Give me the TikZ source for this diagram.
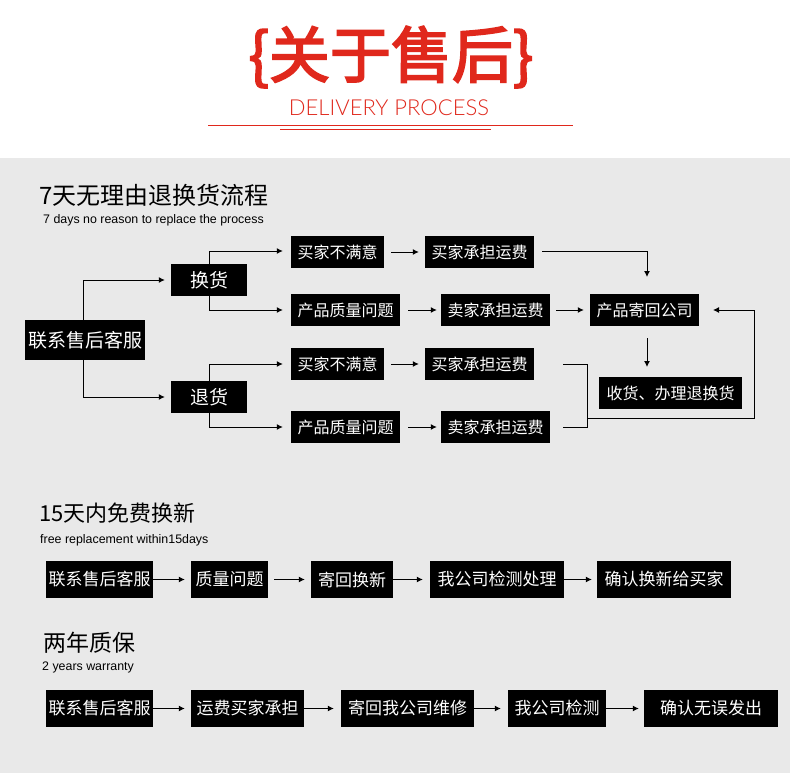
\documentclass[tikz,border=0pt]{standalone}
\usepackage{fontspec}
\setmainfont{Noto Sans CJK SC}
\newfontfamily\cjk{Noto Sans CJK SC}
\newfontfamily\cjkb{Noto Sans CJK SC}[BoldFont=*, BoldFeatures={FakeBold=3}]
\newfontfamily\lightfont{Lato Light}
\usetikzlibrary{arrows.meta}
\definecolor{bgray}{HTML}{E9E9E9}
\definecolor{tred}{HTML}{E0281C}
\tikzset{
  ln/.style={line width=1pt, draw=black},
  ar/.style={ln, -{Latex[length=6pt,width=6pt]}},
  sub/.style={anchor=west, inner sep=0pt, font=\fontspec{Liberation Sans}\fontsize{12.4}{12.4}\selectfont},
}
\begin{document}
\begin{tikzpicture}[x=1pt,y=-1pt]
\useasboundingbox (0,0) rectangle (790,773);
\fill[white] (0,0) rectangle (790,158);
\fill[bgray] (0,158) rectangle (790,773);
% title
\node[text=tred, font=\cjkb\bfseries\fontsize{61}{61}\selectfont, inner sep=0pt] (title) at (391,57) {\{关于售后\}};
\node[text=tred, font=\lightfont\fontsize{22}{22}\selectfont, inner sep=0pt] (sub) at (389,108) {DELIVERY PROCESS};
\draw[tred, line width=1pt] (208,126) coordinate (l1a) -- (573,126) coordinate (l1b);
\draw[tred, line width=1pt] (280,130) coordinate (l2a) -- (491,130) coordinate (l2b);
% headings
\node[anchor=west, inner sep=0pt, font=\cjk\fontsize{24}{24}\selectfont] (h1) at (39,195) {7天无理由退换货流程};
\node[sub] (s1) at (43,220) {7 days no reason to replace the process};
\node[anchor=west, inner sep=0pt, font=\cjk\fontsize{22}{22}\selectfont] (h2) at (39,513) {15天内免费换新};
\node[sub] (s2) at (40,540) {free replacement within15days};
\node[anchor=west, inner sep=0pt, font=\cjk\fontsize{23}{23}\selectfont] (h3) at (43,643) {两年质保};
\node[sub] (s3) at (42,667) {2 years warranty};

% section 1 boxes
\tikzset{b/.style={fill=black, text=white, inner sep=0pt, font=\cjk\fontsize{16}{16}\selectfont}}
\node[b, minimum width=120, minimum height=40, font=\cjk\fontsize{19}{19}\selectfont] (kf) at (85,340) {联系售后客服};
\node[b, minimum width=76, minimum height=32, font=\cjk\fontsize{19}{19}\selectfont] (hh) at (209,280) {换货};
\node[b, minimum width=76, minimum height=32, font=\cjk\fontsize{19}{19}\selectfont] (th) at (209,397) {退货};
\node[b, minimum width=93, minimum height=32] (r1a) at (337.5,252) {买家不满意};
\node[b, minimum width=109, minimum height=32] (r1b) at (479.5,252) {买家承担运费};
\node[b, minimum width=109, minimum height=32] (r2a) at (345.5,310) {产品质量问题};
\node[b, minimum width=109, minimum height=32] (r2b) at (495.5,310) {卖家承担运费};
\node[b, minimum width=109, minimum height=32] (jh) at (644.5,310) {产品寄回公司};
\node[b, minimum width=143, minimum height=32] (sh) at (670.5,393) {收货、办理退换货};
\node[b, minimum width=93, minimum height=32] (r3a) at (337.5,364) {买家不满意};
\node[b, minimum width=109, minimum height=32] (r3b) at (479.5,364) {买家承担运费};
\node[b, minimum width=109, minimum height=32] (r4a) at (345.5,427) {产品质量问题};
\node[b, minimum width=109, minimum height=32] (r4b) at (495.5,427) {卖家承担运费};

% section 1 connectors
\draw[ar] (kf.north -| 83,0) |- ([xshift=-6pt]hh.west);
\draw[ar] (kf.south -| 83,0) |- ([xshift=-6pt]th.west);
\draw[ar] (hh.north) |- ([xshift=-8pt,yshift=1pt]r1a.west);
\draw[ar] (hh.south) |- ([xshift=-8pt]r2a.west);
\draw[ar] (th.north) |- ([xshift=-8pt]r3a.west);
\draw[ar] (th.south) |- ([xshift=-8pt]r4a.west);
\draw[ar] ([xshift=7pt]r1a.east) -- ([xshift=-6pt]r1b.west);
\draw[ar] ([xshift=8pt]r2a.east) -- ([xshift=-4pt]r2b.west);
\draw[ar] ([xshift=6pt]r2b.east) -- ([xshift=-6pt]jh.west);
\draw[ar] ([xshift=7pt]r3a.east) -- ([xshift=-6pt]r3b.west);
\draw[ar] ([xshift=8pt]r4a.east) -- ([xshift=-4pt]r4b.west);
\coordinate (c1) at (542,251);
\coordinate (t1) at (647,277);
\draw[ar] (c1) -| (t1);
\coordinate (d1) at (647,338);
\coordinate (d2) at (647,367);
\draw[ar] (d1) -- (d2);
\coordinate (m3) at (563,364);
\coordinate (m4) at (563,427);
\coordinate (mj) at (587,418);
\coordinate (ej) at (713,310);
\draw[ln] (m3) -| (587,427) -- (m4);
\draw[ar] (mj) -| (754,310) -- (ej);

% section 2
\tikzset{c/.style={fill=black, text=white, inner sep=0pt, minimum height=37, font=\cjk\fontsize{17}{17}\selectfont}}
\node[c, minimum width=107] (a1) at (99.5,579.5) {联系售后客服};
\node[c, minimum width=77] (a2) at (229.5,579.5) {质量问题};
\node[c, minimum width=82] (a3) at (352,579.5) {寄回换新};
\node[c, minimum width=134] (a4) at (497,579.5) {我公司检测处理};
\node[c, minimum width=134] (a5) at (664,579.5) {确认换新给买家};
\draw[ar] (a1.east) -- ([xshift=-6pt]a2.west);
\draw[ar] ([xshift=6pt]a2.east) -- ([xshift=-6pt]a3.west);
\draw[ar] (a3.east) -- ([xshift=-7pt]a4.west);
\draw[ar] (a4.east) -- ([xshift=-5pt]a5.west);

% section 3
\node[c, minimum width=107] (w1) at (99.5,708.5) {联系售后客服};
\node[c, minimum width=113] (w2) at (247.5,708.5) {运费买家承担};
\node[c, minimum width=133] (w3) at (407.5,708.5) {寄回我公司维修};
\node[c, minimum width=98] (w4) at (557,708.5) {我公司检测};
\node[c, minimum width=134] (w5) at (711,708.5) {确认无误发出};
\draw[ar] (w1.east) -- ([xshift=-6pt]w2.west);
\draw[ar] (w2.east) -- ([xshift=-7pt]w3.west);
\draw[ar] (w3.east) -- ([xshift=-7pt]w4.west);
\draw[ar] (w4.east) -- ([xshift=-5pt]w5.west);
\end{tikzpicture}
\end{document}
